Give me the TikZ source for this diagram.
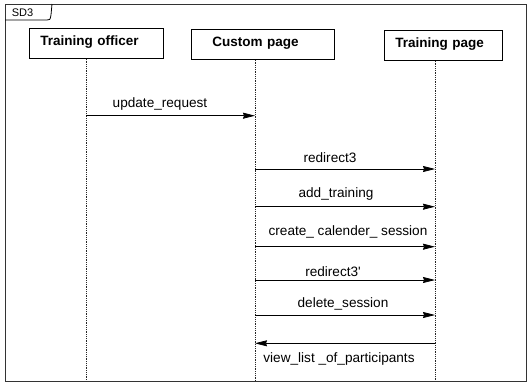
\documentclass[tikz,border=0pt]{standalone}
\usepackage{fontspec}
\setmainfont{Liberation Sans}
\usetikzlibrary{arrows.meta, positioning, shadows}
\tikzset{
  actor/.style={draw, line width=0.8bp, fill=white, anchor=north west, minimum height=30bp,
    inner ysep=0pt, text height=16.8bp, text depth=13.2bp, align=left,
    font=\fontsize{13.5bp}{16bp}\selectfont\bfseries,
    drop shadow={shadow xshift=1bp, shadow yshift=-1bp, fill=black!35, opacity=1}},
  lifeline/.style={draw=black!85, line width=1bp, dash pattern=on 1bp off 0.8bp},
  msg/.style={draw, line width=0.7bp, -{Stealth[length=12bp, width=6bp, inset=1bp]}},
  msglabel/.style={anchor=base, inner sep=0pt, font=\fontsize{13.6bp}{16bp}\selectfont},
}

\begin{document}
\begin{tikzpicture}[x=1bp, y=-1bp]
\useasboundingbox (0,0) rectangle (530,383);
% === FRAME ===
\draw[draw=black!80, line width=0.9bp] (5,4) rectangle (526,381);
\draw[line width=0.8bp] (5,20) -- (47,20) .. controls (50,20) .. (51,15) -- (52,4);
\node[font=\fontsize{11bp}{13bp}\selectfont] (sdname) at (22.5,12.5) {SD3};
% === ACTORS ===
\node[actor, inner xsep=11bp, text width=112bp] (officer) at (29,28) {Training officer};
\node[actor, inner xsep=21bp, text width=101bp] (custompg) at (191,29) {Custom page};
\node[actor, inner xsep=11bp, text width=96bp] (trainingpg) at (384,30) {Training page};
% === LIFELINES ===
\coordinate (officerL) at (86,381);
\coordinate (customL) at (255,381);
\coordinate (trainingL) at (435,381);
\draw[lifeline] (officer.south -| officerL) -- (officerL);
\draw[lifeline] (custompg.south -| customL) -- (customL);
\draw[lifeline] (trainingpg.south -| trainingL) -- (trainingL);
% === MESSAGES ===
\draw[msg] (officerL |- 0,115.7) -- (customL |- 0,115.7);
\node[msglabel] (m1) at (160,107.3) {update\_request};
\draw[msg] (customL |- 0,169) -- (trainingL |- 0,169);
\node[msglabel] (m2) at (330,162.7) {redirect3};
\draw[msg] (customL |- 0,206.7) -- (trainingL |- 0,206.7);
\node[msglabel] (m3) at (336,197.3) {add\_training};
\draw[msg] (customL |- 0,246.7) -- (trainingL |- 0,246.7);
\node[msglabel] (m4) at (348,235) {create\_ calender\_ session};
\draw[msg] (customL |- 0,280) -- (trainingL |- 0,280);
\node[msglabel] (m5) at (333,276) {redirect3\textquotesingle};
\draw[msg] (customL |- 0,315) -- (trainingL |- 0,315);
\node[msglabel] (m6) at (343,307.7) {delete\_session};
\draw[msg] (trainingL |- 0,343.3) -- (customL |- 0,343.3);
\node[msglabel] (m7) at (339,362.7) {view\_list \_of\_participants};
\end{tikzpicture}
\end{document}
